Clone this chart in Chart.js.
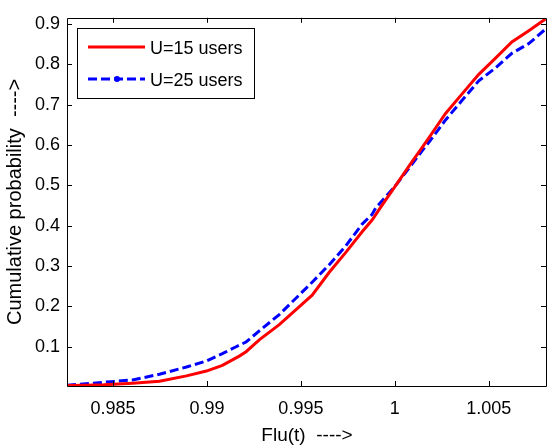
<!DOCTYPE html>
<html>
<head>
<meta charset="utf-8">
<script src="https://cdn.jsdelivr.net/npm/chart.js@4"></script>
<style>
html,body{margin:0;padding:0;background:#fff;}
#wrap{width:547px;height:447px;position:relative;}
</style>
</head>
<body>
<div id="wrap"><canvas id="c" width="547" height="447"></canvas></div>
<script>
// ---- data ----
const seriesLabels = ["U=15 users", "U=25 users"];
const xU15 = [0.98255, 0.9835, 0.9845, 0.98604, 0.98747, 0.98891, 0.98997, 0.99082, 0.99172, 0.99208, 0.9928, 0.99385, 0.9956, 0.9965, 0.99739, 0.99826, 0.99879, 0.99916, 1.00005, 1.00091, 1.00144, 1.00182, 1.00217, 1.0027, 1.00357, 1.00447, 1.00536, 1.00623, 1.00713, 1.00802];
const yU15 = [0.004, 0.005, 0.006, 0.010, 0.015, 0.028, 0.040, 0.054, 0.077, 0.088, 0.118, 0.155, 0.228, 0.284, 0.334, 0.385, 0.414, 0.440, 0.500, 0.558, 0.593, 0.618, 0.642, 0.678, 0.726, 0.775, 0.815, 0.855, 0.883, 0.912];
const xU25 = [0.98255, 0.98391, 0.98604, 0.98747, 0.98891, 0.98997, 0.99082, 0.9915, 0.99208, 0.9928, 0.99385, 0.9956, 0.9965, 0.99739, 0.99826, 0.99879, 0.99898, 1.00005, 1.00091, 1.00144, 1.00182, 1.00235, 1.0027, 1.00357, 1.00447, 1.00536, 1.00623, 1.00713, 1.00802];
const yU25 = [0.005, 0.010, 0.018, 0.032, 0.050, 0.065, 0.083, 0.099, 0.112, 0.140, 0.180, 0.260, 0.303, 0.350, 0.404, 0.428, 0.444, 0.500, 0.552, 0.585, 0.607, 0.640, 0.662, 0.710, 0.759, 0.791, 0.827, 0.851, 0.887];
const xTicks = [0.985, 0.99, 0.995, 1, 1.005];
const xTickLabels = ["0.985", "0.99", "0.995", "1", "1.005"];
const yTicks = [0.1, 0.2, 0.3, 0.4, 0.5, 0.6, 0.7, 0.8, 0.9];
const yTickLabels = ["0.1", "0.2", "0.3", "0.4", "0.5", "0.6", "0.7", "0.8", "0.9"];
const xTitle = "Flu(t)  ---->";
const yTitle = "Cumulative probability  ---->";

const FONT = "'Liberation Sans', Arial, sans-serif";
const toPts = (xs, ys) => xs.map((x, i) => ({x: x, y: ys[i]}));

const framePlugin = {
  id: 'frame',
  afterDatasetsDraw(chart) {
    const ctx = chart.ctx, a = chart.chartArea;
    const xs = chart.scales.x, ys = chart.scales.y;
    ctx.save();
    ctx.strokeStyle = '#000';
    ctx.lineWidth = 1;
    ctx.beginPath();
    ctx.rect(Math.round(a.left) + 0.5, Math.round(a.top) + 0.5, Math.round(a.right - a.left) - 1, Math.round(a.bottom - a.top));
    ctx.stroke();
    const L = 5;
    ctx.beginPath();
    xTicks.forEach(v => {
      const px = Math.round(xs.getPixelForValue(v)) + 0.5;
      ctx.moveTo(px, a.bottom); ctx.lineTo(px, a.bottom - L);
      ctx.moveTo(px, a.top); ctx.lineTo(px, a.top + L);
    });
    yTicks.forEach(v => {
      const py = Math.round(ys.getPixelForValue(v)) + 0.5;
      ctx.moveTo(a.left, py); ctx.lineTo(a.left + L, py);
      ctx.moveTo(a.right - 1, py); ctx.lineTo(a.right - 1 - L, py);
    });
    ctx.stroke();

    // legend
    const bx = 77.5, by = 28.5, bw = 177, bh = 70;
    ctx.fillStyle = '#fff';
    ctx.fillRect(bx, by, bw, bh);
    ctx.strokeStyle = '#000';
    ctx.lineWidth = 1;
    ctx.strokeRect(bx, by, bw, bh);
    const dsets = chart.data.datasets;
    const rows = [47, 79];
    dsets.forEach((d, i) => {
      ctx.save();
      ctx.strokeStyle = d.borderColor;
      ctx.lineWidth = d.borderWidth;
      ctx.setLineDash(d.borderDash || []);
      ctx.beginPath();
      ctx.moveTo(88, rows[i]); ctx.lineTo(145, rows[i]);
      ctx.stroke();
      if (i === 1) {
        ctx.setLineDash([]);
        ctx.fillStyle = d.borderColor;
        ctx.beginPath();
        ctx.arc(117, rows[i], 3, 0, Math.PI * 2);
        ctx.fill();
      }
      ctx.restore();
      ctx.fillStyle = '#000';
      ctx.font = '18px ' + FONT;
      ctx.textBaseline = 'middle';
      ctx.textAlign = 'left';
      ctx.fillText(d.label, 150, rows[i] + 2);
    });
    ctx.restore();
  }
};

new Chart(document.getElementById('c'), {
  type: 'scatter',
  data: {
    datasets: [
      {label: seriesLabels[0], data: toPts(xU15, yU15), showLine: true, borderColor: '#ff0000', backgroundColor: '#ff0000', borderWidth: 3, pointRadius: 0, tension: 0},
      {label: seriesLabels[1], data: toPts(xU25, yU25), showLine: true, borderColor: '#0000ff', backgroundColor: '#0000ff', borderWidth: 3, borderDash: [9, 4], pointRadius: 0, tension: 0}
    ]
  },
  options: {
    responsive: false,
    animation: false,
    layout: {padding: {top: 9, right: 0, left: 0, bottom: 0}},
    plugins: {legend: {display: false}, tooltip: {enabled: false}},
    scales: {
      x: {
        type: 'linear', min: 0.98255, max: 1.0081,
        grid: {display: false, drawTicks: false},
        border: {display: false},
        afterBuildTicks: s => { s.ticks = xTicks.map(v => ({value: v})); },
        afterFit: s => { s.height = 61; },
        ticks: {
          color: '#000', font: {family: FONT, size: 18}, padding: 12, maxRotation: 0,
          callback: (v) => { const i = xTicks.findIndex(t => Math.abs(t - v) < 1e-9); return i >= 0 ? xTickLabels[i] : ''; }
        },
        title: {display: true, text: xTitle, color: '#000', font: {family: FONT, size: 19}, padding: {top: 0, bottom: 0}}
      },
      y: {
        type: 'linear', min: 0.003, max: 0.915,
        grid: {display: false, drawTicks: false},
        border: {display: false},
        afterBuildTicks: s => { s.ticks = yTicks.map(v => ({value: v})); },
        afterFit: s => { s.width = 67; },
        ticks: {
          color: '#000', font: {family: FONT, size: 18}, padding: 7,
          callback: (v) => { const i = yTicks.findIndex(t => Math.abs(t - v) < 1e-9); return i >= 0 ? yTickLabels[i] : ''; }
        },
        title: {display: true, text: yTitle, color: '#000', font: {family: FONT, size: 20}, padding: {top: 3, bottom: 0}}
      }
    }
  },
  plugins: [framePlugin]
});
</script>
</body>
</html>
